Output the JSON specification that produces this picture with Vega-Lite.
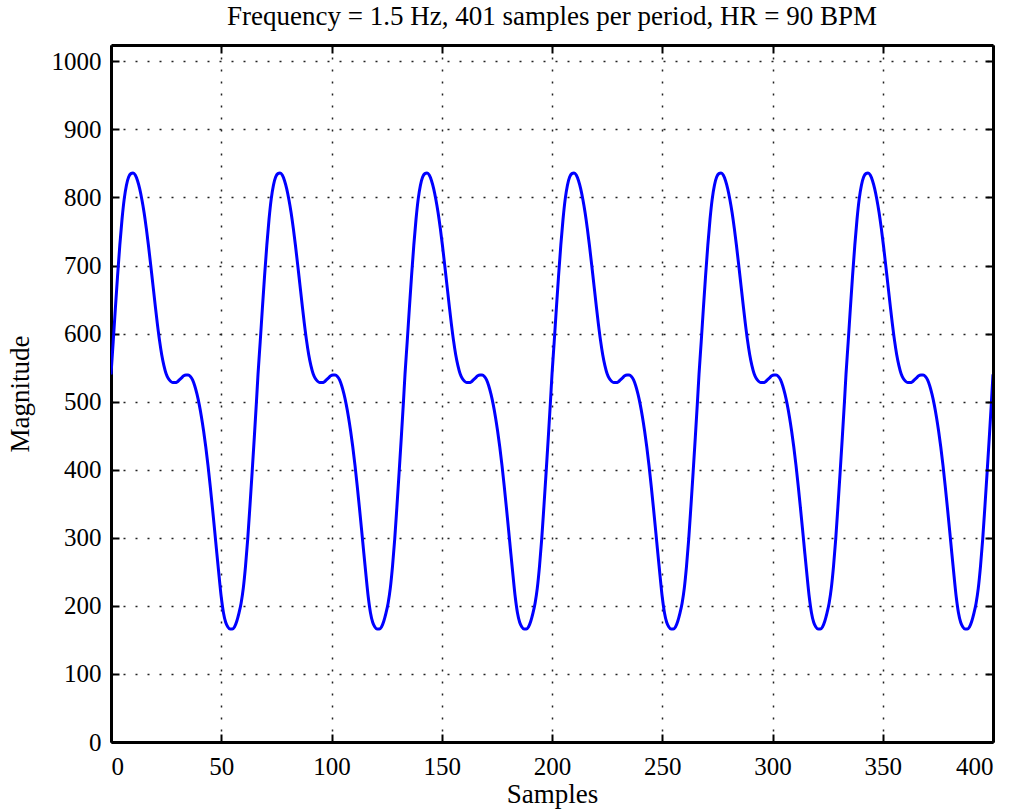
{
  "$schema": "https://vega.github.io/schema/vega-lite/v6.json",
  "width": 882,
  "height": 697,
  "autosize": {"type": "none"},
  "padding": {"left": 111, "top": 45, "right": 26, "bottom": 70},
  "background": "white",
  "view": {"stroke": null},
  "config": {
    "font": "Liberation Serif",
    "axis": {"labelFont": "Liberation Serif", "titleFont": "Liberation Serif", "labelColor": "black", "titleColor": "black", "titleFontWeight": "normal"}
  },
  "title": {"text": "Frequency = 1.5 Hz, 401 samples per period, HR = 90 BPM", "font": "Liberation Serif", "fontSize": 27, "fontWeight": "normal", "color": "black", "offset": 13},
  "data": {"values": [
    {"x":0,"y":540},{"x":1,"y":588},{"x":2,"y":638},{"x":3,"y":686},{"x":4,"y":730},{"x":5,"y":768},{"x":6,"y":798},{"x":7,"y":818},{"x":8,"y":830},{"x":9,"y":835},{"x":10,"y":836},{"x":11,"y":833},{"x":12,"y":825},{"x":13,"y":813},{"x":14,"y":797},{"x":15,"y":778},{"x":16,"y":755},{"x":17,"y":729},{"x":18,"y":701},{"x":19,"y":672},{"x":20,"y":643},{"x":21,"y":615},{"x":22,"y":590},{"x":23,"y":569},{"x":24,"y":553},{"x":25,"y":541},{"x":26,"y":534},{"x":27,"y":530},{"x":28,"y":528},{"x":29,"y":528},{"x":30,"y":529},{"x":31,"y":532},{"x":32,"y":535},{"x":33,"y":538},{"x":34,"y":539},{"x":35,"y":539},{"x":36,"y":537},{"x":37,"y":532},{"x":38,"y":523},{"x":39,"y":511},{"x":40,"y":496},{"x":41,"y":478},{"x":42,"y":457},{"x":43,"y":433},{"x":44,"y":406},{"x":45,"y":376},{"x":46,"y":344},{"x":47,"y":311},{"x":48,"y":277},{"x":49,"y":244},{"x":50,"y":213},{"x":51,"y":190},{"x":52,"y":176},{"x":53,"y":169},{"x":54,"y":166},{"x":55,"y":166},{"x":56,"y":169},{"x":57,"y":177},{"x":58,"y":189},{"x":59,"y":204},{"x":60,"y":226},{"x":61,"y":258},{"x":62,"y":298},{"x":63,"y":346},{"x":64,"y":396},{"x":65,"y":448},{"x":66,"y":502},
    {"x":66.67,"y":540},{"x":67.67,"y":588},{"x":68.67,"y":638},{"x":69.67,"y":686},{"x":70.67,"y":730},{"x":71.67,"y":768},{"x":72.67,"y":798},{"x":73.67,"y":818},{"x":74.67,"y":830},{"x":75.67,"y":835},{"x":76.67,"y":836},{"x":77.67,"y":833},{"x":78.67,"y":825},{"x":79.67,"y":813},{"x":80.67,"y":797},{"x":81.67,"y":778},{"x":82.67,"y":755},{"x":83.67,"y":729},{"x":84.67,"y":701},{"x":85.67,"y":672},{"x":86.67,"y":643},{"x":87.67,"y":615},{"x":88.67,"y":590},{"x":89.67,"y":569},{"x":90.67,"y":553},{"x":91.67,"y":541},{"x":92.67,"y":534},{"x":93.67,"y":530},{"x":94.67,"y":528},{"x":95.67,"y":528},{"x":96.67,"y":529},{"x":97.67,"y":532},{"x":98.67,"y":535},{"x":99.67,"y":538},{"x":100.67,"y":539},{"x":101.67,"y":539},{"x":102.67,"y":537},{"x":103.67,"y":532},{"x":104.67,"y":523},{"x":105.67,"y":511},{"x":106.67,"y":496},{"x":107.67,"y":478},{"x":108.67,"y":457},{"x":109.67,"y":433},{"x":110.67,"y":406},{"x":111.67,"y":376},{"x":112.67,"y":344},{"x":113.67,"y":311},{"x":114.67,"y":277},{"x":115.67,"y":244},{"x":116.67,"y":213},{"x":117.67,"y":190},{"x":118.67,"y":176},{"x":119.67,"y":169},{"x":120.67,"y":166},{"x":121.67,"y":166},{"x":122.67,"y":169},{"x":123.67,"y":177},{"x":124.67,"y":189},{"x":125.67,"y":204},{"x":126.67,"y":226},{"x":127.67,"y":258},{"x":128.67,"y":298},{"x":129.67,"y":346},{"x":130.67,"y":396},{"x":131.67,"y":448},{"x":132.67,"y":502},
    {"x":133.33,"y":540},{"x":134.33,"y":588},{"x":135.33,"y":638},{"x":136.33,"y":686},{"x":137.33,"y":730},{"x":138.33,"y":768},{"x":139.33,"y":798},{"x":140.33,"y":818},{"x":141.33,"y":830},{"x":142.33,"y":835},{"x":143.33,"y":836},{"x":144.33,"y":833},{"x":145.33,"y":825},{"x":146.33,"y":813},{"x":147.33,"y":797},{"x":148.33,"y":778},{"x":149.33,"y":755},{"x":150.33,"y":729},{"x":151.33,"y":701},{"x":152.33,"y":672},{"x":153.33,"y":643},{"x":154.33,"y":615},{"x":155.33,"y":590},{"x":156.33,"y":569},{"x":157.33,"y":553},{"x":158.33,"y":541},{"x":159.33,"y":534},{"x":160.33,"y":530},{"x":161.33,"y":528},{"x":162.33,"y":528},{"x":163.33,"y":529},{"x":164.33,"y":532},{"x":165.33,"y":535},{"x":166.33,"y":538},{"x":167.33,"y":539},{"x":168.33,"y":539},{"x":169.33,"y":537},{"x":170.33,"y":532},{"x":171.33,"y":523},{"x":172.33,"y":511},{"x":173.33,"y":496},{"x":174.33,"y":478},{"x":175.33,"y":457},{"x":176.33,"y":433},{"x":177.33,"y":406},{"x":178.33,"y":376},{"x":179.33,"y":344},{"x":180.33,"y":311},{"x":181.33,"y":277},{"x":182.33,"y":244},{"x":183.33,"y":213},{"x":184.33,"y":190},{"x":185.33,"y":176},{"x":186.33,"y":169},{"x":187.33,"y":166},{"x":188.33,"y":166},{"x":189.33,"y":169},{"x":190.33,"y":177},{"x":191.33,"y":189},{"x":192.33,"y":204},{"x":193.33,"y":226},{"x":194.33,"y":258},{"x":195.33,"y":298},{"x":196.33,"y":346},{"x":197.33,"y":396},{"x":198.33,"y":448},{"x":199.33,"y":502},
    {"x":200,"y":540},{"x":201,"y":588},{"x":202,"y":638},{"x":203,"y":686},{"x":204,"y":730},{"x":205,"y":768},{"x":206,"y":798},{"x":207,"y":818},{"x":208,"y":830},{"x":209,"y":835},{"x":210,"y":836},{"x":211,"y":833},{"x":212,"y":825},{"x":213,"y":813},{"x":214,"y":797},{"x":215,"y":778},{"x":216,"y":755},{"x":217,"y":729},{"x":218,"y":701},{"x":219,"y":672},{"x":220,"y":643},{"x":221,"y":615},{"x":222,"y":590},{"x":223,"y":569},{"x":224,"y":553},{"x":225,"y":541},{"x":226,"y":534},{"x":227,"y":530},{"x":228,"y":528},{"x":229,"y":528},{"x":230,"y":529},{"x":231,"y":532},{"x":232,"y":535},{"x":233,"y":538},{"x":234,"y":539},{"x":235,"y":539},{"x":236,"y":537},{"x":237,"y":532},{"x":238,"y":523},{"x":239,"y":511},{"x":240,"y":496},{"x":241,"y":478},{"x":242,"y":457},{"x":243,"y":433},{"x":244,"y":406},{"x":245,"y":376},{"x":246,"y":344},{"x":247,"y":311},{"x":248,"y":277},{"x":249,"y":244},{"x":250,"y":213},{"x":251,"y":190},{"x":252,"y":176},{"x":253,"y":169},{"x":254,"y":166},{"x":255,"y":166},{"x":256,"y":169},{"x":257,"y":177},{"x":258,"y":189},{"x":259,"y":204},{"x":260,"y":226},{"x":261,"y":258},{"x":262,"y":298},{"x":263,"y":346},{"x":264,"y":396},{"x":265,"y":448},{"x":266,"y":502},
    {"x":266.67,"y":540},{"x":267.67,"y":588},{"x":268.67,"y":638},{"x":269.67,"y":686},{"x":270.67,"y":730},{"x":271.67,"y":768},{"x":272.67,"y":798},{"x":273.67,"y":818},{"x":274.67,"y":830},{"x":275.67,"y":835},{"x":276.67,"y":836},{"x":277.67,"y":833},{"x":278.67,"y":825},{"x":279.67,"y":813},{"x":280.67,"y":797},{"x":281.67,"y":778},{"x":282.67,"y":755},{"x":283.67,"y":729},{"x":284.67,"y":701},{"x":285.67,"y":672},{"x":286.67,"y":643},{"x":287.67,"y":615},{"x":288.67,"y":590},{"x":289.67,"y":569},{"x":290.67,"y":553},{"x":291.67,"y":541},{"x":292.67,"y":534},{"x":293.67,"y":530},{"x":294.67,"y":528},{"x":295.67,"y":528},{"x":296.67,"y":529},{"x":297.67,"y":532},{"x":298.67,"y":535},{"x":299.67,"y":538},{"x":300.67,"y":539},{"x":301.67,"y":539},{"x":302.67,"y":537},{"x":303.67,"y":532},{"x":304.67,"y":523},{"x":305.67,"y":511},{"x":306.67,"y":496},{"x":307.67,"y":478},{"x":308.67,"y":457},{"x":309.67,"y":433},{"x":310.67,"y":406},{"x":311.67,"y":376},{"x":312.67,"y":344},{"x":313.67,"y":311},{"x":314.67,"y":277},{"x":315.67,"y":244},{"x":316.67,"y":213},{"x":317.67,"y":190},{"x":318.67,"y":176},{"x":319.67,"y":169},{"x":320.67,"y":166},{"x":321.67,"y":166},{"x":322.67,"y":169},{"x":323.67,"y":177},{"x":324.67,"y":189},{"x":325.67,"y":204},{"x":326.67,"y":226},{"x":327.67,"y":258},{"x":328.67,"y":298},{"x":329.67,"y":346},{"x":330.67,"y":396},{"x":331.67,"y":448},{"x":332.67,"y":502},
    {"x":333.33,"y":540},{"x":334.33,"y":588},{"x":335.33,"y":638},{"x":336.33,"y":686},{"x":337.33,"y":730},{"x":338.33,"y":768},{"x":339.33,"y":798},{"x":340.33,"y":818},{"x":341.33,"y":830},{"x":342.33,"y":835},{"x":343.33,"y":836},{"x":344.33,"y":833},{"x":345.33,"y":825},{"x":346.33,"y":813},{"x":347.33,"y":797},{"x":348.33,"y":778},{"x":349.33,"y":755},{"x":350.33,"y":729},{"x":351.33,"y":701},{"x":352.33,"y":672},{"x":353.33,"y":643},{"x":354.33,"y":615},{"x":355.33,"y":590},{"x":356.33,"y":569},{"x":357.33,"y":553},{"x":358.33,"y":541},{"x":359.33,"y":534},{"x":360.33,"y":530},{"x":361.33,"y":528},{"x":362.33,"y":528},{"x":363.33,"y":529},{"x":364.33,"y":532},{"x":365.33,"y":535},{"x":366.33,"y":538},{"x":367.33,"y":539},{"x":368.33,"y":539},{"x":369.33,"y":537},{"x":370.33,"y":532},{"x":371.33,"y":523},{"x":372.33,"y":511},{"x":373.33,"y":496},{"x":374.33,"y":478},{"x":375.33,"y":457},{"x":376.33,"y":433},{"x":377.33,"y":406},{"x":378.33,"y":376},{"x":379.33,"y":344},{"x":380.33,"y":311},{"x":381.33,"y":277},{"x":382.33,"y":244},{"x":383.33,"y":213},{"x":384.33,"y":190},{"x":385.33,"y":176},{"x":386.33,"y":169},{"x":387.33,"y":166},{"x":388.33,"y":166},{"x":389.33,"y":169},{"x":390.33,"y":177},{"x":391.33,"y":189},{"x":392.33,"y":204},{"x":393.33,"y":226},{"x":394.33,"y":258},{"x":395.33,"y":298},{"x":396.33,"y":346},{"x":397.33,"y":396},{"x":398.33,"y":448},{"x":399.33,"y":502},
    {"x":400,"y":540}
  ]},
  "layer": [
    {
      "mark": {"type": "line", "color": "#0000ff", "strokeWidth": 3, "interpolate": "monotone", "clip": true},
      "encoding": {
        "x": {"field": "x", "type": "quantitative", "scale": {"domain": [0, 400], "nice": false, "zero": false},
          "axis": {"orient": "bottom", "title": "Samples", "values": [0,50,100,150,200,250,300,350,400], "format": "d",
            "labelFontSize": 25, "titleFontSize": 27, "labelPadding": 20, "titlePadding": 2,
            "tickSize": -8, "tickColor": "black", "tickWidth": 2, "domainColor": "black", "domainWidth": 3,
            "grid": true, "gridColor": "#222222", "gridWidth": 1.5, "gridDash": [2, 10], "zindex": 0}},
        "y": {"field": "y", "type": "quantitative", "scale": {"domain": [0, 1024], "nice": false, "zero": true},
          "axis": {"orient": "left", "title": "Magnitude", "values": [0,100,200,300,400,500,600,700,800,900,1000], "format": "d",
            "labelFontSize": 25, "titleFontSize": 27, "labelPadding": 18, "titlePadding": 17,
            "tickSize": -8, "tickColor": "black", "tickWidth": 2, "domainColor": "black", "domainWidth": 3,
            "grid": true, "gridColor": "#222222", "gridWidth": 1.5, "gridDash": [2, 10], "zindex": 0}}
      }
    },
    {
      "mark": {"type": "line", "opacity": 0, "interpolate": "monotone"},
      "encoding": {
        "x": {"field": "x", "type": "quantitative",
          "axis": {"orient": "top", "title": null, "labels": false, "values": [0,50,100,150,200,250,300,350,400],
            "tickSize": -8, "tickColor": "black", "tickWidth": 2, "domainColor": "black", "domainWidth": 3, "grid": false, "zindex": 1}},
        "y": {"field": "y", "type": "quantitative",
          "axis": {"orient": "right", "title": null, "labels": false, "values": [0,100,200,300,400,500,600,700,800,900,1000],
            "tickSize": -8, "tickColor": "black", "tickWidth": 2, "domainColor": "black", "domainWidth": 3, "grid": false, "zindex": 1}}
      }
    }
  ],
  "resolve": {"axis": {"x": "independent", "y": "independent"}}
}
